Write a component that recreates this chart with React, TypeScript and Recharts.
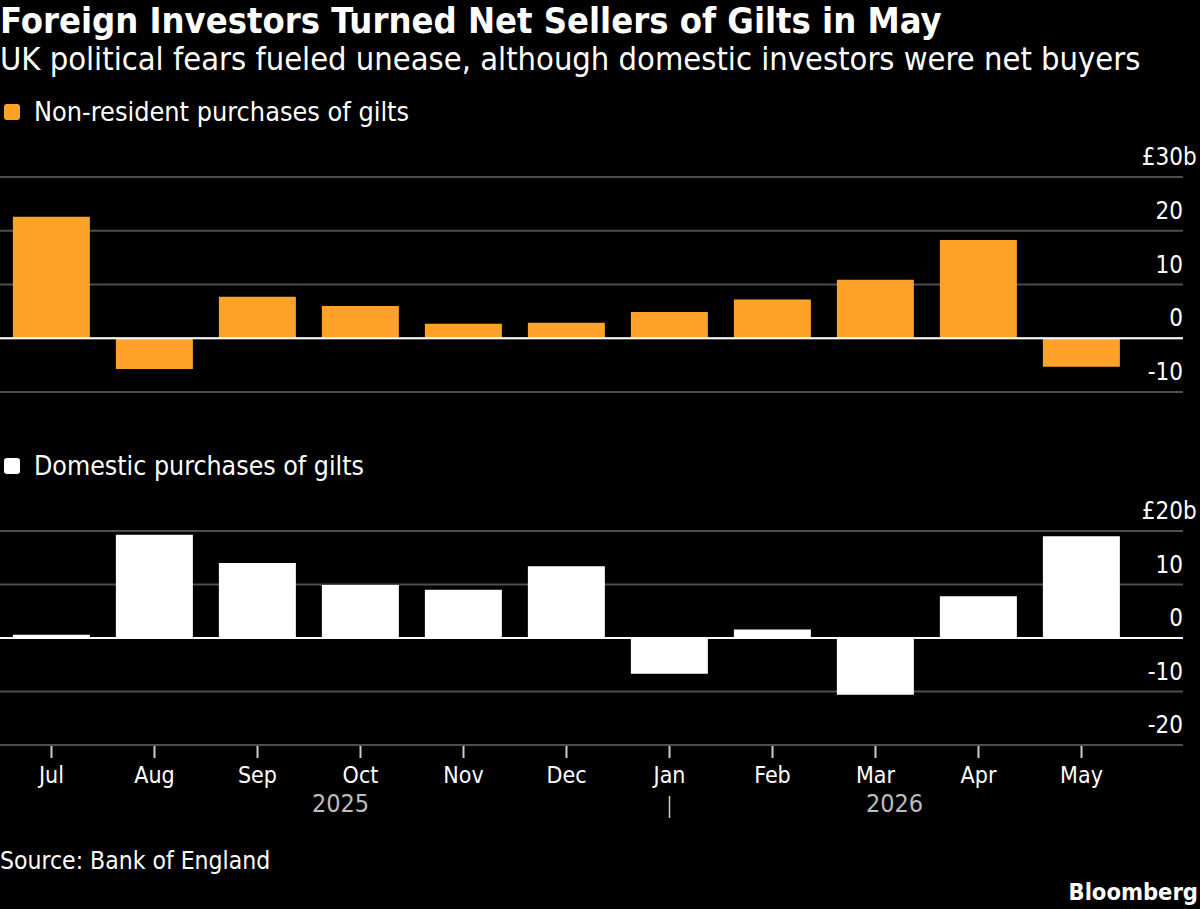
import React from "react";
import {
  Bar,
  BarChart,
  CartesianGrid,
  ReferenceLine,
  XAxis,
  YAxis,
} from "recharts";

// values, £ billions
const months = ["Jul", "Aug", "Sep", "Oct", "Nov", "Dec", "Jan", "Feb", "Mar", "Apr", "May"];
const nonResident = [22.6, -5.7, 7.7, 6.0, 2.7, 2.9, 4.9, 7.2, 10.9, 18.3, -5.3];
const domestic = [0.6, 19.3, 14.0, 9.9, 9.0, 13.4, -6.7, 1.6, -10.6, 7.8, 19.0];
const topTicks = [-10, 0, 10, 20, 30];
const bottomTicks = [-20, -10, 0, 10, 20];
const yearLabels: Record<string, string> = { Oct: "2025", Mar: "2026" };

const FONT = "'DejaVu Sans Condensed', 'DejaVu Sans', sans-serif";
const ORANGE = "#ffa229";
const GRID = "#4f4f4f";
const CHART_W = 1200;
const MARGIN_R = 16;
const YAXIS_W = 1;
const PLOT_RIGHT = CHART_W - MARGIN_R - YAXIS_W;

const topData = months.map((m, i) => ({ month: m, value: nonResident[i] }));
const bottomData = months.map((m, i) => ({ month: m, value: domestic[i] }));

function makeYTick(maxTick: number) {
  return function YTick(props: any) {
    const { y, payload } = props;
    const v = payload.value;
    if (v === maxTick) {
      return (
        <g>
          <text x={PLOT_RIGHT} y={y - 12} textAnchor="end" fill="#fff" fontSize={24} fontFamily={FONT}>
            {"£" + v}
          </text>
          <text x={PLOT_RIGHT} y={y - 12} textAnchor="start" fill="#fff" fontSize={24} fontFamily={FONT}>
            b
          </text>
        </g>
      );
    }
    return (
      <text x={PLOT_RIGHT} y={y - 12} textAnchor="end" fill="#fff" fontSize={24} fontFamily={FONT}>
        {String(v)}
      </text>
    );
  };
}

function XTick(props: any) {
  const { x, y, payload } = props;
  const m = payload.value as string;
  const year = yearLabels[m];
  return (
    <g>
      <line x1={x} x2={x} y1={y + 1} y2={y + 13} stroke="#ccc" strokeWidth={2} />
      <text x={x} y={y + 38} textAnchor="middle" fill="#fff" fontSize={23} fontFamily={FONT}>
        {m}
      </text>
      {year && (
        <text
          x={m === "Oct" ? x - 20 : x + 19}
          y={y + 67}
          textAnchor="middle"
          fill="#bdbdbd"
          fontSize={25}
          fontFamily={FONT}
        >
          {year}
        </text>
      )}
      {m === "Jan" && (
        <line x1={x} x2={x} y1={y + 51} y2={y + 73} stroke="#ccc" strokeWidth={1.5} />
      )}
    </g>
  );
}

export default function App() {
  return (
    <div
      style={{
        position: "absolute",
        left: 0,
        top: 0,
        width: 1200,
        height: 909,
        background: "#000",
        overflow: "hidden",
      }}
    >
      <svg
        width={1200}
        height={909}
        style={{ position: "absolute", left: 0, top: 0 }}
      >
        <text x={0} y={33} fill="#fff" fontSize={36} fontWeight="bold" fontFamily={FONT}>
          Foreign Investors Turned Net Sellers of Gilts in May
        </text>
        <text x={0} y={70} fill="#fff" fontSize={32.4} fontFamily={FONT}>
          UK political fears fueled unease, although domestic investors were net buyers
        </text>
        <rect x={4} y={104} width={16} height={16} rx={3} fill={ORANGE} />
        <text x={34} y={121} fill="#fff" fontSize={26.8} fontFamily={FONT}>
          Non-resident purchases of gilts
        </text>
        <rect x={4} y={458} width={16} height={16} rx={3} fill="#fff" />
        <text x={34} y={475} fill="#fff" fontSize={26.5} fontFamily={FONT}>
          Domestic purchases of gilts
        </text>
        <text x={0} y={869} fill="#fff" fontSize={24.5} fontFamily={FONT}>
          Source: Bank of England
        </text>
        <text x={1198} y={900} textAnchor="end" fill="#fff" fontSize={23.5} fontWeight="bold" fontFamily={FONT}>
          Bloomberg
        </text>
      </svg>

      <div style={{ position: "absolute", left: 0, top: 137 }}>
        <BarChart
          width={CHART_W}
          height={265}
          data={topData}
          margin={{ top: 40, right: MARGIN_R, left: 0, bottom: 10 }}
          barCategoryGap="12.5%"
        >
          <CartesianGrid vertical={false} stroke={GRID} strokeWidth={2} />
          <XAxis dataKey="month" hide padding={{ left: 0, right: 50 }} />
          <YAxis
            orientation="right"
            width={YAXIS_W}
            domain={[-10, 30]}
            ticks={topTicks}
            axisLine={false}
            tickLine={false}
            tickSize={0}
            tickMargin={0}
            interval={0}
            tick={makeYTick(30)}
          />
          <ReferenceLine y={0} stroke="#fff" strokeWidth={2} />
          <Bar dataKey="value" fill={ORANGE} isAnimationActive={false} />
        </BarChart>
      </div>

      <div style={{ position: "absolute", left: 0, top: 491 }}>
        <BarChart
          width={CHART_W}
          height={344}
          data={bottomData}
          margin={{ top: 40, right: MARGIN_R, left: 0, bottom: 0 }}
          barCategoryGap="12.5%"
        >
          <CartesianGrid vertical={false} stroke={GRID} strokeWidth={2} />
          <XAxis
            dataKey="month"
            height={90}
            padding={{ left: 0, right: 50 }}
            axisLine={false}
            tickLine={false}
            tickSize={0}
            tickMargin={0}
            interval={0}
            tick={XTick}
          />
          <YAxis
            orientation="right"
            width={YAXIS_W}
            domain={[-20, 20]}
            ticks={bottomTicks}
            axisLine={false}
            tickLine={false}
            tickSize={0}
            tickMargin={0}
            interval={0}
            tick={makeYTick(20)}
          />
          <ReferenceLine y={0} stroke="#fff" strokeWidth={2} />
          <Bar dataKey="value" fill="#fff" isAnimationActive={false} />
        </BarChart>
      </div>
    </div>
  );
}
